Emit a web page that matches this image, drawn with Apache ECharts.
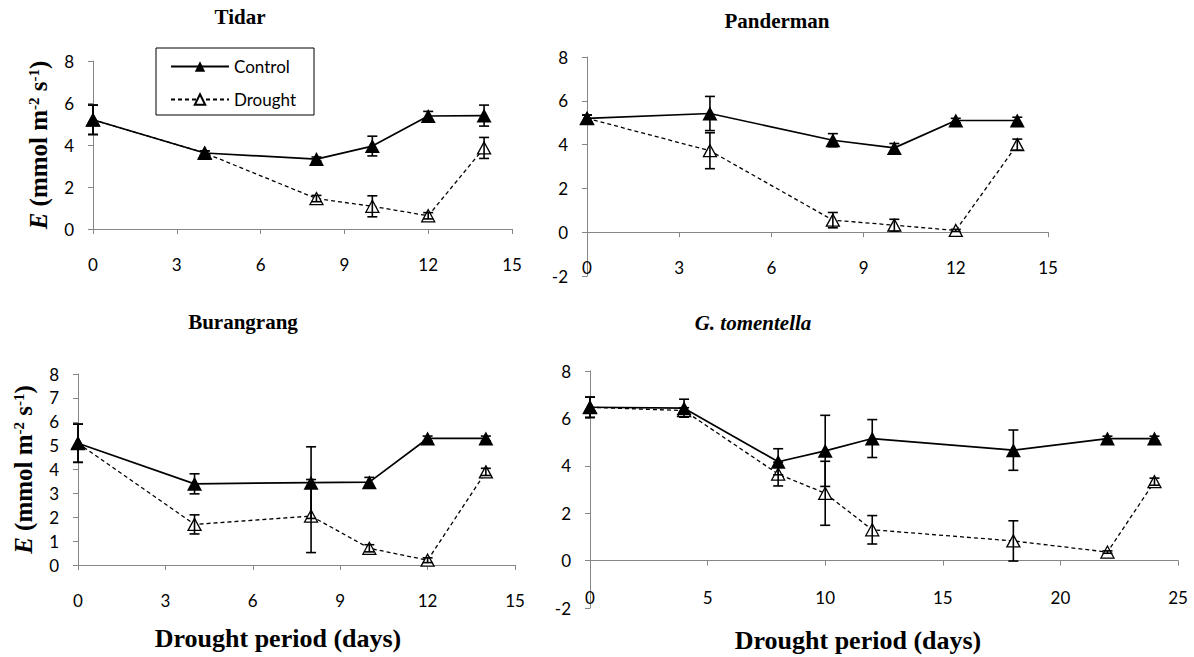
<!DOCTYPE html>
<html>
<head>
<meta charset="utf-8">
<script src="https://cdn.jsdelivr.net/npm/echarts@6/dist/echarts.min.js"></script>
<style>
html,body{margin:0;padding:0;background:#fff;}
#chart{width:1194px;height:657px;}
</style>
</head>
<body>
<div id="chart"></div>
<script>
// ---------- DATA ----------
const days15 = [0, 4, 8, 10, 12, 14];
const days25 = [0, 4, 8, 10, 12, 18, 22, 24];

const panelTitles = ['Tidar', 'Panderman', 'Burangrang', 'G. tomentella'];
const seriesNames = ['Control', 'Drought'];
const xAxisTitle = 'Drought period (days)';

const tidarControl     = [5.20, 3.62, 3.33, 3.95, 5.38, 5.40];
const tidarControlErr  = [0.70, 0.10, 0.10, 0.47, 0.22, 0.50];
const tidarDrought     = [5.20, 3.62, 1.45, 1.08, 0.63, 3.86];
const tidarDroughtErr  = [0.70, 0.10, 0.15, 0.50, 0.15, 0.50];

const pandControl      = [5.20, 5.42, 4.20, 3.85, 5.10, 5.10];
const pandControlErr   = [0.15, 0.78, 0.30, 0.20, 0.10, 0.15];
const pandDrought      = [5.20, 3.72, 0.55, 0.32, 0.08, 4.00];
const pandDroughtErr   = [0.15, 0.82, 0.35, 0.27, 0.05, 0.25];

const buraControl      = [5.10, 3.40, 3.45, 3.47, 5.30, 5.30];
const buraControlErr   = [0.80, 0.42, 1.50, 0.20, 0.10, 0.10];
const buraDrought      = [5.10, 1.70, 2.05, 0.70, 0.20, 3.90];
const buraDroughtErr   = [0.80, 0.40, 1.53, 0.15, 0.10, 0.15];

const gtomControl      = [6.47, 6.43, 4.17, 4.63, 5.15, 4.66, 5.15, 5.15];
const gtomControlErr   = [0.43, 0.38, 0.55, 1.50, 0.80, 0.85, 0.10, 0.10];
const gtomDrought      = [6.47, 6.33, 3.65, 2.84, 1.30, 0.83, 0.36, 3.33];
const gtomDroughtErr   = [0.43, 0.12, 0.50, 1.35, 0.60, 0.85, 0.05, 0.15];

// ---------- LAYOUT ----------
const grids = [
  {left: 93,  top: 61,  width: 419, height: 168},
  {left: 587, top: 57,  width: 461, height: 219},
  {left: 78,  top: 374, width: 437, height: 191},
  {left: 590, top: 371, width: 588, height: 237}
];
const xCfg = [
  {max: 15, interval: 3, margin: 27}, {max: 15, interval: 3, margin: -17},
  {max: 15, interval: 3, margin: 27}, {max: 25, interval: 5, margin: -19}
];
const yCfg = [
  {min: 0, max: 8, interval: 2}, {min: -2, max: 8, interval: 2},
  {min: 0, max: 8, interval: 1}, {min: -2, max: 8, interval: 2}
];
const panels = [
  {days: days15, c: tidarControl, ce: tidarControlErr, d: tidarDrought, de: tidarDroughtErr},
  {days: days15, c: pandControl,  ce: pandControlErr,  d: pandDrought,  de: pandDroughtErr},
  {days: days15, c: buraControl,  ce: buraControlErr,  d: buraDrought,  de: buraDroughtErr},
  {days: days25, c: gtomControl,  ce: gtomControlErr,  d: gtomDrought,  de: gtomDroughtErr}
];

const serif = '"Liberation Serif", "Times New Roman", serif';
const sans = 'Lato, "Open Sans", sans-serif';
const axisGray = '#868686';

const yName = '{i|E}{n| (mmol m}{s|-2}{n| s}{s|-1}{n|)}';
const yNameStyle = {
  color: '#000',
  fontFamily: serif, fontWeight: 'bold', fontSize: 25,
  rich: {
    i: {fontFamily: serif, fontWeight: 'bold', fontStyle: 'italic', fontSize: 25, color: '#000'},
    n: {fontFamily: serif, fontWeight: 'bold', fontSize: 25, color: '#000'},
    s: {fontFamily: serif, fontWeight: 'bold', fontSize: 15, color: '#000', verticalAlign: 'top'}
  }
};

const xAxes = [], yAxes = [], series = [];
panels.forEach((p, i) => {
  xAxes.push({
    type: 'value', gridIndex: i, min: 0, max: xCfg[i].max, interval: xCfg[i].interval,
    axisLine: {onZero: true, lineStyle: {color: axisGray, width: 1}},
    axisTick: {show: true, length: 5, inside: false, lineStyle: {color: axisGray}},
    axisLabel: {color: '#000', fontFamily: sans, fontSize: 17, margin: xCfg[i].margin},
    splitLine: {show: false}
  });
  const y = {
    type: 'value', gridIndex: i, min: yCfg[i].min, max: yCfg[i].max, interval: yCfg[i].interval,
    axisLine: {show: true, onZero: false, lineStyle: {color: axisGray, width: 1}},
    axisTick: {show: true, length: 5, inside: false, lineStyle: {color: axisGray}},
    axisLabel: {color: '#000', fontFamily: sans, fontSize: 17, margin: 19},
    splitLine: {show: false}
  };
  if (i === 0 || i === 2) {
    y.name = yName;
    y.nameLocation = 'middle';
    y.nameRotate = 90;
    y.nameGap = 42;
    y.nameTextStyle = yNameStyle;
  }
  yAxes.push(y);

  series.push({
    name: 'Drought', type: 'line', xAxisIndex: i, yAxisIndex: i, z: 2, clip: false,
    data: p.days.map((d, k) => [d, p.d[k]]),
    symbol: 'triangle', symbolSize: [13, 12],
    itemStyle: {color: '#fff', borderColor: '#000', borderWidth: 1.3},
    lineStyle: {color: '#000', width: 1.3, type: [4, 3]},
    emphasis: {disabled: true}, animation: false
  });
  series.push({
    name: 'Control', type: 'line', xAxisIndex: i, yAxisIndex: i, z: 3, clip: false,
    data: p.days.map((d, k) => [d, p.c[k]]),
    symbol: 'triangle', symbolSize: [15, 14],
    itemStyle: {color: '#000', borderColor: '#000', borderWidth: 0},
    lineStyle: {color: '#000', width: 1.7, type: 'solid'},
    emphasis: {disabled: true}, animation: false
  });
  const errData = [];
  p.days.forEach((d, k) => {
    errData.push([d, p.c[k] - p.ce[k], p.c[k] + p.ce[k]]);
    errData.push([d, p.d[k] - p.de[k], p.d[k] + p.de[k]]);
  });
  series.push({
    name: 'err' + i, type: 'custom', xAxisIndex: i, yAxisIndex: i, z: 4, clip: false,
    data: errData, encode: {x: 0, y: [1, 2]}, animation: false, silent: true,
    renderItem: function (params, api) {
      const x = api.value(0);
      const lo = api.coord([x, api.value(1)]);
      const hi = api.coord([x, api.value(2)]);
      const w = 5;
      const st = {stroke: '#000', lineWidth: 1.6};
      return {type: 'group', children: [
        {type: 'line', shape: {x1: hi[0], y1: hi[1], x2: lo[0], y2: lo[1]}, style: st},
        {type: 'line', shape: {x1: hi[0] - w, y1: hi[1], x2: hi[0] + w, y2: hi[1]}, style: st},
        {type: 'line', shape: {x1: lo[0] - w, y1: lo[1], x2: lo[0] + w, y2: lo[1]}, style: st}
      ]};
    }
  });
});

function label(text, x, y, size, italic) {
  return {
    type: 'text', x: x, y: y, silent: true,
    style: {
      text: text, fill: '#000',
      fontFamily: serif, fontWeight: 'bold', fontStyle: italic ? 'italic' : 'normal', fontSize: size,
      textAlign: 'center', textVerticalAlign: 'middle', align: 'center', verticalAlign: 'middle'
    }
  };
}

const option = {
  backgroundColor: '#fff',
  animation: false,
  grid: grids,
  xAxis: xAxes,
  yAxis: yAxes,
  series: series,
  legend: {
    data: seriesNames,
    orient: 'vertical',
    left: 156, top: 48,
    padding: [10, 18, 7, 14],
    itemWidth: 58, itemHeight: 13, itemGap: 16,
    borderColor: '#000', borderWidth: 1, borderRadius: 0,
    backgroundColor: '#fff',
    selectedMode: false,
    textStyle: {color: '#000', fontFamily: sans, fontSize: 17}
  },
  graphic: [
    label(panelTitles[0], 240, 17, 21, false),
    label(panelTitles[1], 777, 21, 21, false),
    label(panelTitles[2], 243, 322, 21, false),
    label(panelTitles[3], 753, 323, 21, true),
    label(xAxisTitle, 278, 638, 26, false),
    label(xAxisTitle, 858, 640, 26, false)
  ]
};

const chart = echarts.init(document.getElementById('chart'), null, {renderer: 'svg'});
chart.setOption(option);
</script>
</body>
</html>
